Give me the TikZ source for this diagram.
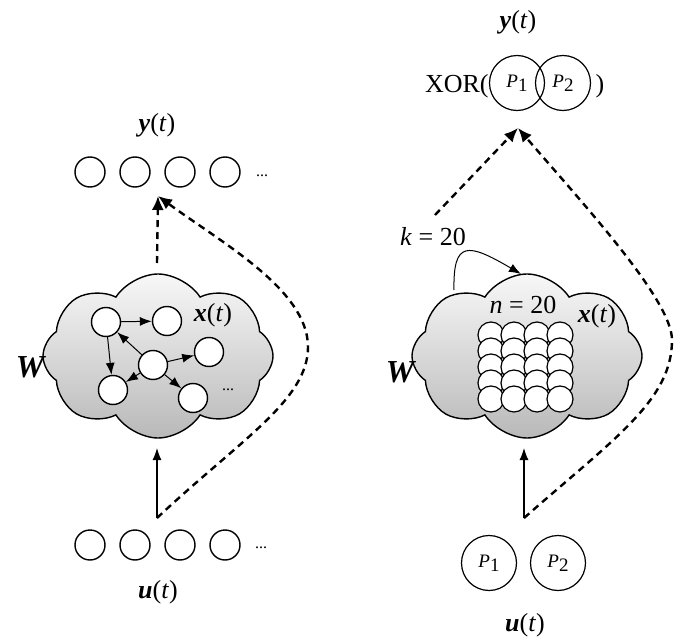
\documentclass[tikz,border=0pt]{standalone}
\usepackage{fontspec}
\setmainfont{Liberation Serif}
\usetikzlibrary{arrows.meta}
\usetikzlibrary{shapes.symbols}
\pgfdeclarelayer{cloudlayer}
\pgfdeclarelayer{edgelayer}
\pgfdeclarelayer{nodelayer}
\pgfsetlayers{cloudlayer,edgelayer,nodelayer,main}
\tikzstyle{unit}=[circle,draw=black,fill=white,line width=0.7pt,minimum size=15pt,inner sep=0pt]
\tikzstyle{inner_unit}=[circle,draw=black,fill=white,line width=0.7pt,minimum size=14.5pt,inner sep=0pt]
\tikzstyle{cell}=[circle,draw=black,fill=white,line width=0.6pt,minimum size=13pt,inner sep=0pt]
\tikzstyle{pattern_unit}=[circle,draw=black,line width=0.6pt,minimum size=27.5pt,inner sep=0pt,font=\fontsize{9.5}{9.5}\selectfont]
\tikzstyle{reservoir}=[cloud,cloud puffs=8,cloud puff arc=115,shape border rotate=22.5,aspect=1.45,draw=black,line width=0.7pt,top color=gray!6,bottom color=gray!55,minimum width=115pt,minimum height=82pt,inner sep=0pt]
\tikzstyle{label_text}=[font=\fontsize{13}{13}\selectfont,inner sep=0pt]
\tikzstyle{weight_text}=[font=\fontsize{16}{16}\selectfont\bfseries\itshape,inner sep=0pt]
\tikzstyle{dots}=[font=\fontsize{8}{8}\selectfont,inner sep=0pt]
\tikzstyle{readout}=[-{Latex[length=7pt,width=6pt]},draw=black,dash pattern=on 3.5pt off 2.5pt,line width=1.2pt]
\tikzstyle{feed}=[-{Latex[length=6pt,width=4.5pt]},draw=black,line width=0.6pt]
\tikzstyle{link}=[-{Latex[length=6pt,width=4.5pt]},draw=black,line width=0.5pt]
\newcommand{\pat}[1]{\textit{P}\raisebox{-0.45ex}{#1}}

\begin{document}
\begin{tikzpicture}[x=0.5pt,y=-0.5pt]
	\useasboundingbox (0,0) rectangle (681,637);
	% left: random reservoir
	\begin{pgfonlayer}{cloudlayer}
		\node [style=reservoir] (7) at (158,356) {};
	\end{pgfonlayer}
	\begin{pgfonlayer}{nodelayer}
		\node [style=label_text] (0) at (157,125) {\textbf{\textit{y}}(\textit{t})};
		\node [style=unit] (1) at (90,172) {};
		\node [style=unit] (2) at (135,172) {};
		\node [style=unit] (3) at (180,172) {};
		\node [style=unit] (4) at (225,172) {};
		\node [style=dots] (5) at (262,176) {...};
		\coordinate (6) at (158,196);
		\node [style=weight_text] (8) at (30,367) {W};
		\node [style=label_text] (9) at (213,315) {\textbf{\textit{x}}(\textit{t})};
		\node [style=inner_unit] (10) at (106,322) {};
		\node [style=inner_unit] (11) at (167,321) {};
		\node [style=inner_unit] (12) at (153,365) {};
		\node [style=inner_unit] (13) at (209,352) {};
		\node [style=inner_unit] (14) at (113,390) {};
		\node [style=inner_unit] (15) at (193,398) {};
		\node [style=dots] (16) at (228,390) {...};
		\coordinate (17) at (157,518);
		\coordinate (18) at (157,448);
		\coordinate (25) at (308,347);
		\coordinate (26) at (157,263);
		\node [style=unit] (19) at (90,545) {};
		\node [style=unit] (20) at (135,545) {};
		\node [style=unit] (21) at (180,545) {};
		\node [style=unit] (22) at (225,545) {};
		\node [style=dots] (23) at (261,548) {...};
		\node [style=label_text] (24) at (158,592) {\textbf{\textit{u}}(\textit{t})};
	\end{pgfonlayer}
	\begin{pgfonlayer}{edgelayer}
		\draw [style=link] (10) to (11);
		\draw [style=link] (10) to (14);
		\draw [style=link] (12) to (10);
		\draw [style=link] (12) to (13);
		\draw [style=link] (12) to (14);
		\draw [style=link] (12) to (15);
		\draw [style=feed] (17) to (18);
		\draw [style=readout] (26) to (6);
		\draw [style=readout] (17) .. controls (240,440) and (308,400) .. (25)
			.. controls (308,290) and (222,243) .. (6);
	\end{pgfonlayer}

	% right: 20 units, 20 links each, XOR task
	\begin{pgfonlayer}{cloudlayer}
		\node [style=reservoir] (34) at (527,356) {};
	\end{pgfonlayer}
	\begin{pgfonlayer}{nodelayer}
		\node [style=label_text] (30) at (518,22) {\textbf{\textit{y}}(\textit{t})};
		\node [style=label_text, anchor=base east] (31) at (489,92) {XOR(};
		\node [style=pattern_unit] (32) at (517,83) {\pat{1}};
		\node [style=pattern_unit] (33) at (563,83) {\pat{2}};
		\node [style=label_text, anchor=base] (35) at (600,92) {)};
		\coordinate (36) at (518,128);
		\coordinate (37) at (435,215);
		\node [style=label_text] (38) at (433,237) {\textit{k} = 20};
		\node [style=weight_text] (39) at (400,372) {W};
		\node [style=label_text] (40) at (523,305) {\textit{n} = 20};
		\node [style=label_text] (41) at (597,316) {\textbf{\textit{x}}(\textit{t})};
		\node [style=cell] (42) at (491,335) {};
		\node [style=cell] (43) at (514,335) {};
		\node [style=cell] (44) at (537,335) {};
		\node [style=cell] (45) at (560,335) {};
		\node [style=cell] (46) at (491,351) {};
		\node [style=cell] (47) at (514,351) {};
		\node [style=cell] (48) at (537,351) {};
		\node [style=cell] (49) at (560,351) {};
		\node [style=cell] (50) at (491,367) {};
		\node [style=cell] (51) at (514,367) {};
		\node [style=cell] (52) at (537,367) {};
		\node [style=cell] (53) at (560,367) {};
		\node [style=cell] (54) at (491,383) {};
		\node [style=cell] (55) at (514,383) {};
		\node [style=cell] (56) at (537,383) {};
		\node [style=cell] (57) at (560,383) {};
		\node [style=cell] (58) at (491,399) {};
		\node [style=cell] (59) at (514,399) {};
		\node [style=cell] (60) at (537,399) {};
		\node [style=cell] (61) at (560,399) {};
		\coordinate (62) at (454,290);
		\coordinate (63) at (521,274);
		\coordinate (64) at (524,518);
		\coordinate (65) at (524,448);
		\coordinate (66) at (672,340);
		\node [style=pattern_unit] (67) at (489,563) {\pat{1}};
		\node [style=pattern_unit] (68) at (558,563) {\pat{2}};
		\node [style=label_text] (69) at (525,625) {\textbf{\textit{u}}(\textit{t})};
	\end{pgfonlayer}
	\begin{pgfonlayer}{edgelayer}
		\draw [style=link] (62) .. controls (453,240) and (468,243) .. (63);
		\draw [style=feed] (64) to (65);
		\draw [style=readout] (37) to (36);
		\draw [style=readout] (64) .. controls (615,438) and (672,400) .. (66)
			.. controls (672,300) and (584,205) .. (36);
	\end{pgfonlayer}
\end{tikzpicture}
\end{document}
